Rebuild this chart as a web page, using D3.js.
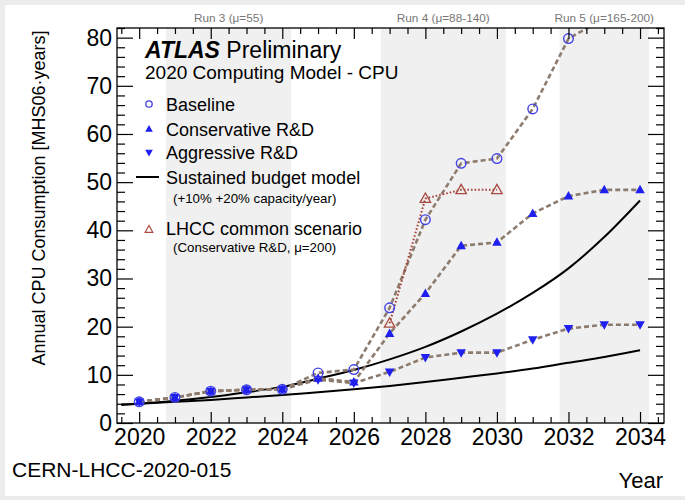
<!DOCTYPE html>
<html>
<head>
<meta charset="utf-8">
<script src="https://cdn.jsdelivr.net/npm/d3@7"></script>
<style>
  html, body { margin: 0; padding: 0; background: #fff; }
  svg { display: block; }
  text { font-family: "Liberation Sans", Arial, Helvetica, sans-serif; }
</style>
</head>
<body>
<svg id="chart" width="685" height="500"></svg>
<script>
// ---------------- data ----------------
const years = [2020, 2021, 2022, 2023, 2024, 2025, 2026, 2027, 2028, 2029, 2030, 2031, 2032, 2033, 2034];
const baseline = [4.4, 5.3, 6.6, 6.9, 7.0, 10.4, 11.1, 23.9, 42.2, 53.9, 54.9, 65.2, 79.8, 84.0];
const conservative = [4.4, 5.3, 6.6, 6.9, 7.0, 9.3, 8.5, 18.6, 26.9, 36.8, 37.5, 43.5, 47.1, 48.4, 48.4];
const aggressive = [4.4, 5.3, 6.6, 6.9, 7.0, 9.0, 8.3, 10.6, 13.6, 14.6, 14.6, 17.3, 19.6, 20.4, 20.4];
const lhccYears = [2027, 2028, 2029, 2030];
const lhcc = [20.7, 46.6, 48.4, 48.4];
const budgetYears = [2019.5, 2020, 2021, 2022, 2023, 2024, 2025, 2026, 2027, 2028, 2029, 2030, 2031, 2032, 2033, 2034];
const budget20 = [3.8, 4.0, 4.6, 5.4, 6.4, 7.5, 9.2, 11.0, 13.2, 15.8, 19.0, 22.7, 27.0, 32.1, 38.6, 46.2];
const budget10 = [3.8, 4.0, 4.4, 4.8, 5.3, 5.8, 6.4, 7.0, 7.7, 8.5, 9.4, 10.3, 11.3, 12.5, 13.7, 15.1];
const runBands = [[2020.75, 2024.25], [2026.75, 2030.25], [2031.75, 2034.25]];
const runLabels = ["Run 3 (\u03bc=55)", "Run 4 (\u03bc=88-140)", "Run 5 (\u03bc=165-200)"];
const xMajorTicks = [2020, 2022, 2024, 2026, 2028, 2030, 2032, 2034];
const yMajorTicks = [0, 10, 20, 30, 40, 50, 60, 70, 80];

// ---------------- layout ----------------
const svg = d3.select("#chart");
const L = 117, R = 664, T = 28, B = 423;
const x = d3.scaleLinear().domain([2019.38, 2034.67]).range([L, R]);
const y = d3.scaleLinear().domain([0, 82]).range([B, T]);

// outer light frame
svg.append("rect").attr("x", 0).attr("y", 0).attr("width", 685).attr("height", 500).attr("fill", "#ececec");
svg.append("rect").attr("x", 5).attr("y", 5).attr("width", 680).attr("height", 491).attr("fill", "#fff");

svg.append("defs").append("clipPath").attr("id", "plotclip")
  .append("rect").attr("x", L).attr("y", T).attr("width", R - L).attr("height", B - T);

// run bands
svg.append("g").selectAll("rect").data(runBands).join("rect")
  .attr("x", d => x(d[0])).attr("y", T)
  .attr("width", d => x(d[1]) - x(d[0])).attr("height", B - T)
  .attr("fill", "#f0f0f0");

svg.append("g").selectAll("text").data(runBands).join("text")
  .attr("x", d => x((d[0] + d[1]) / 2)).attr("y", 22)
  .attr("text-anchor", "middle").attr("font-size", 11.8).attr("fill", "#777")
  .text((d, i) => runLabels[i]);

const plot = svg.append("g").attr("clip-path", "url(#plotclip)");

// sustained budget curves
const curveLine = d3.line().x(d => x(d[0])).y(d => y(d[1])).curve(d3.curveMonotoneX);
[budget20, budget10].forEach(arr => {
  plot.append("path").datum(budgetYears.map((yr, i) => [yr, arr[i]]))
    .attr("d", curveLine).attr("fill", "none").attr("stroke", "#000").attr("stroke-width", 2);
});

// series lines
const segLine = d3.line().x(d => x(d[0])).y(d => y(d[1]));
const dashCol = "#8d7b6e";
function pairs(ys, vals) { return vals.map((v, i) => [ys[i], v]); }
[baseline, conservative, aggressive].forEach(arr => {
  plot.append("path").datum(pairs(years, arr)).attr("d", segLine)
    .attr("fill", "none").attr("stroke", dashCol).attr("stroke-width", 2.6)
    .attr("stroke-dasharray", "5,3");
});
plot.append("path").datum(pairs(lhccYears, lhcc)).attr("d", segLine)
  .attr("fill", "none").attr("stroke", "#a8403a").attr("stroke-width", 2)
  .attr("stroke-dasharray", "1.6,2");

// markers
const circCol = "#4040e6", triCol = "#1f1ff0", lhccCol = "#a84a40";
function upTri(s) { return `M0,${-s}L${s * 0.95},${s * 0.7}L${-s * 0.95},${s * 0.7}Z`; }
function dnTri(s) { return `M0,${s}L${s * 0.95},${-s * 0.7}L${-s * 0.95},${-s * 0.7}Z`; }

plot.append("g").selectAll("path").data(pairs(years, aggressive)).join("path")
  .attr("transform", d => `translate(${x(d[0])},${y(d[1])})`)
  .attr("d", dnTri(5)).attr("fill", triCol);
plot.append("g").selectAll("path").data(pairs(years, conservative)).join("path")
  .attr("transform", d => `translate(${x(d[0])},${y(d[1])})`)
  .attr("d", upTri(5)).attr("fill", triCol);
plot.append("g").selectAll("circle").data(pairs(years, baseline)).join("circle")
  .attr("cx", d => x(d[0])).attr("cy", d => y(d[1])).attr("r", 4.8)
  .attr("fill", "none").attr("stroke", circCol).attr("stroke-width", 1.4);
plot.append("g").selectAll("path").data(pairs(lhccYears, lhcc)).join("path")
  .attr("transform", d => `translate(${x(d[0])},${y(d[1])})`)
  .attr("d", upTri(5.5)).attr("fill", "none").attr("stroke", lhccCol).attr("stroke-width", 1.3);

// frame
svg.append("rect").attr("x", L).attr("y", T).attr("width", R - L).attr("height", B - T)
  .attr("fill", "none").attr("stroke", "#000").attr("stroke-width", 1.3);

// axes
const xMinor = d3.range(2019.5, 2034.6, 0.5).filter(v => !xMajorTicks.includes(v));
const yMinor = d3.range(0, 82.1, 2).filter(v => !yMajorTicks.includes(v));
function styleAxis(g) { g.select(".domain").remove(); g.selectAll("line").attr("stroke", "#000").attr("stroke-width", 1.2); }

svg.append("g").attr("transform", `translate(0,${B})`)
  .call(d3.axisBottom(x).tickValues(xMajorTicks).tickSizeInner(-11).tickSizeOuter(0).tickPadding(6).tickFormat(d3.format("d")))
  .call(styleAxis).call(g => g.selectAll("text").attr("font-size", 23).attr("fill", "#000").attr("font-family", "Liberation Sans, Arial, sans-serif"));
svg.append("g").attr("transform", `translate(0,${B})`)
  .call(d3.axisBottom(x).tickValues(xMinor).tickSizeInner(-6).tickSizeOuter(0).tickFormat(""))
  .call(styleAxis);
svg.append("g").attr("transform", `translate(0,${T})`)
  .call(d3.axisTop(x).tickValues(xMajorTicks).tickSizeInner(-11).tickSizeOuter(0).tickFormat(""))
  .call(styleAxis);
svg.append("g").attr("transform", `translate(0,${T})`)
  .call(d3.axisTop(x).tickValues(xMinor).tickSizeInner(-6).tickSizeOuter(0).tickFormat(""))
  .call(styleAxis);

svg.append("g").attr("transform", `translate(${L},0)`)
  .call(d3.axisLeft(y).tickValues(yMajorTicks).tickSizeInner(-16).tickSizeOuter(0).tickPadding(5).tickFormat(d3.format("d")))
  .call(styleAxis).call(g => g.selectAll("text").attr("font-size", 23).attr("fill", "#000").attr("font-family", "Liberation Sans, Arial, sans-serif"));
svg.append("g").attr("transform", `translate(${L},0)`)
  .call(d3.axisLeft(y).tickValues(yMinor).tickSizeInner(-8).tickSizeOuter(0).tickFormat(""))
  .call(styleAxis);
svg.append("g").attr("transform", `translate(${R},0)`)
  .call(d3.axisRight(y).tickValues(yMajorTicks).tickSizeInner(-16).tickSizeOuter(0).tickFormat(""))
  .call(styleAxis);
svg.append("g").attr("transform", `translate(${R},0)`)
  .call(d3.axisRight(y).tickValues(yMinor).tickSizeInner(-8).tickSizeOuter(0).tickFormat(""))
  .call(styleAxis);

// axis titles
svg.append("text").attr("transform", "translate(45,198) rotate(-90)")
  .attr("text-anchor", "middle").attr("font-size", 18).attr("fill", "#000")
  .text("Annual CPU Consumption  [MHS06\u00b7years]");
svg.append("text").attr("x", 663).attr("y", 488).attr("text-anchor", "end")
  .attr("font-size", 22).attr("fill", "#000").text("Year");
svg.append("text").attr("x", 12).attr("y", 477)
  .attr("font-size", 21).attr("fill", "#000").text("CERN-LHCC-2020-015");

// ATLAS label
const atl = svg.append("text").attr("x", 145).attr("y", 58).attr("font-size", 23).attr("fill", "#000");
atl.append("tspan").attr("font-weight", "bold").attr("font-style", "italic").text("ATLAS");
atl.append("tspan").text(" Preliminary");
svg.append("text").attr("x", 145).attr("y", 79).attr("font-size", 19).attr("fill", "#000")
  .text("2020 Computing Model - CPU");

// legend
const lg = svg.append("g");
const lx = 149, tx = 166;
lg.append("circle").attr("cx", lx).attr("cy", 104).attr("r", 3.2)
  .attr("fill", "none").attr("stroke", circCol).attr("stroke-width", 1.3);
lg.append("text").attr("x", tx).attr("y", 110.5).attr("font-size", 18).text("Baseline");
lg.append("path").attr("transform", `translate(${lx},129)`).attr("d", upTri(4)).attr("fill", triCol);
lg.append("text").attr("x", tx).attr("y", 135.5).attr("font-size", 18).text("Conservative R&D");
lg.append("path").attr("transform", `translate(${lx},152.5)`).attr("d", dnTri(4)).attr("fill", triCol);
lg.append("text").attr("x", tx).attr("y", 159).attr("font-size", 18).text("Aggressive R&D");
lg.append("line").attr("x1", 136).attr("x2", 159).attr("y1", 177).attr("y2", 177)
  .attr("stroke", "#000").attr("stroke-width", 2);
lg.append("text").attr("x", tx).attr("y", 183.5).attr("font-size", 18).text("Sustained budget model");
lg.append("text").attr("x", 173).attr("y", 203).attr("font-size", 13.3).text("(+10% +20% capacity/year)");
lg.append("path").attr("transform", `translate(${lx},229.5)`).attr("d", upTri(4)).attr("fill", "none")
  .attr("stroke", lhccCol).attr("stroke-width", 1.2);
lg.append("text").attr("x", tx).attr("y", 234.5).attr("font-size", 18).text("LHCC common scenario");
lg.append("text").attr("x", 173).attr("y", 252).attr("font-size", 13.3).text("(Conservative R&D, \u03bc=200)");
</script>
</body>
</html>
